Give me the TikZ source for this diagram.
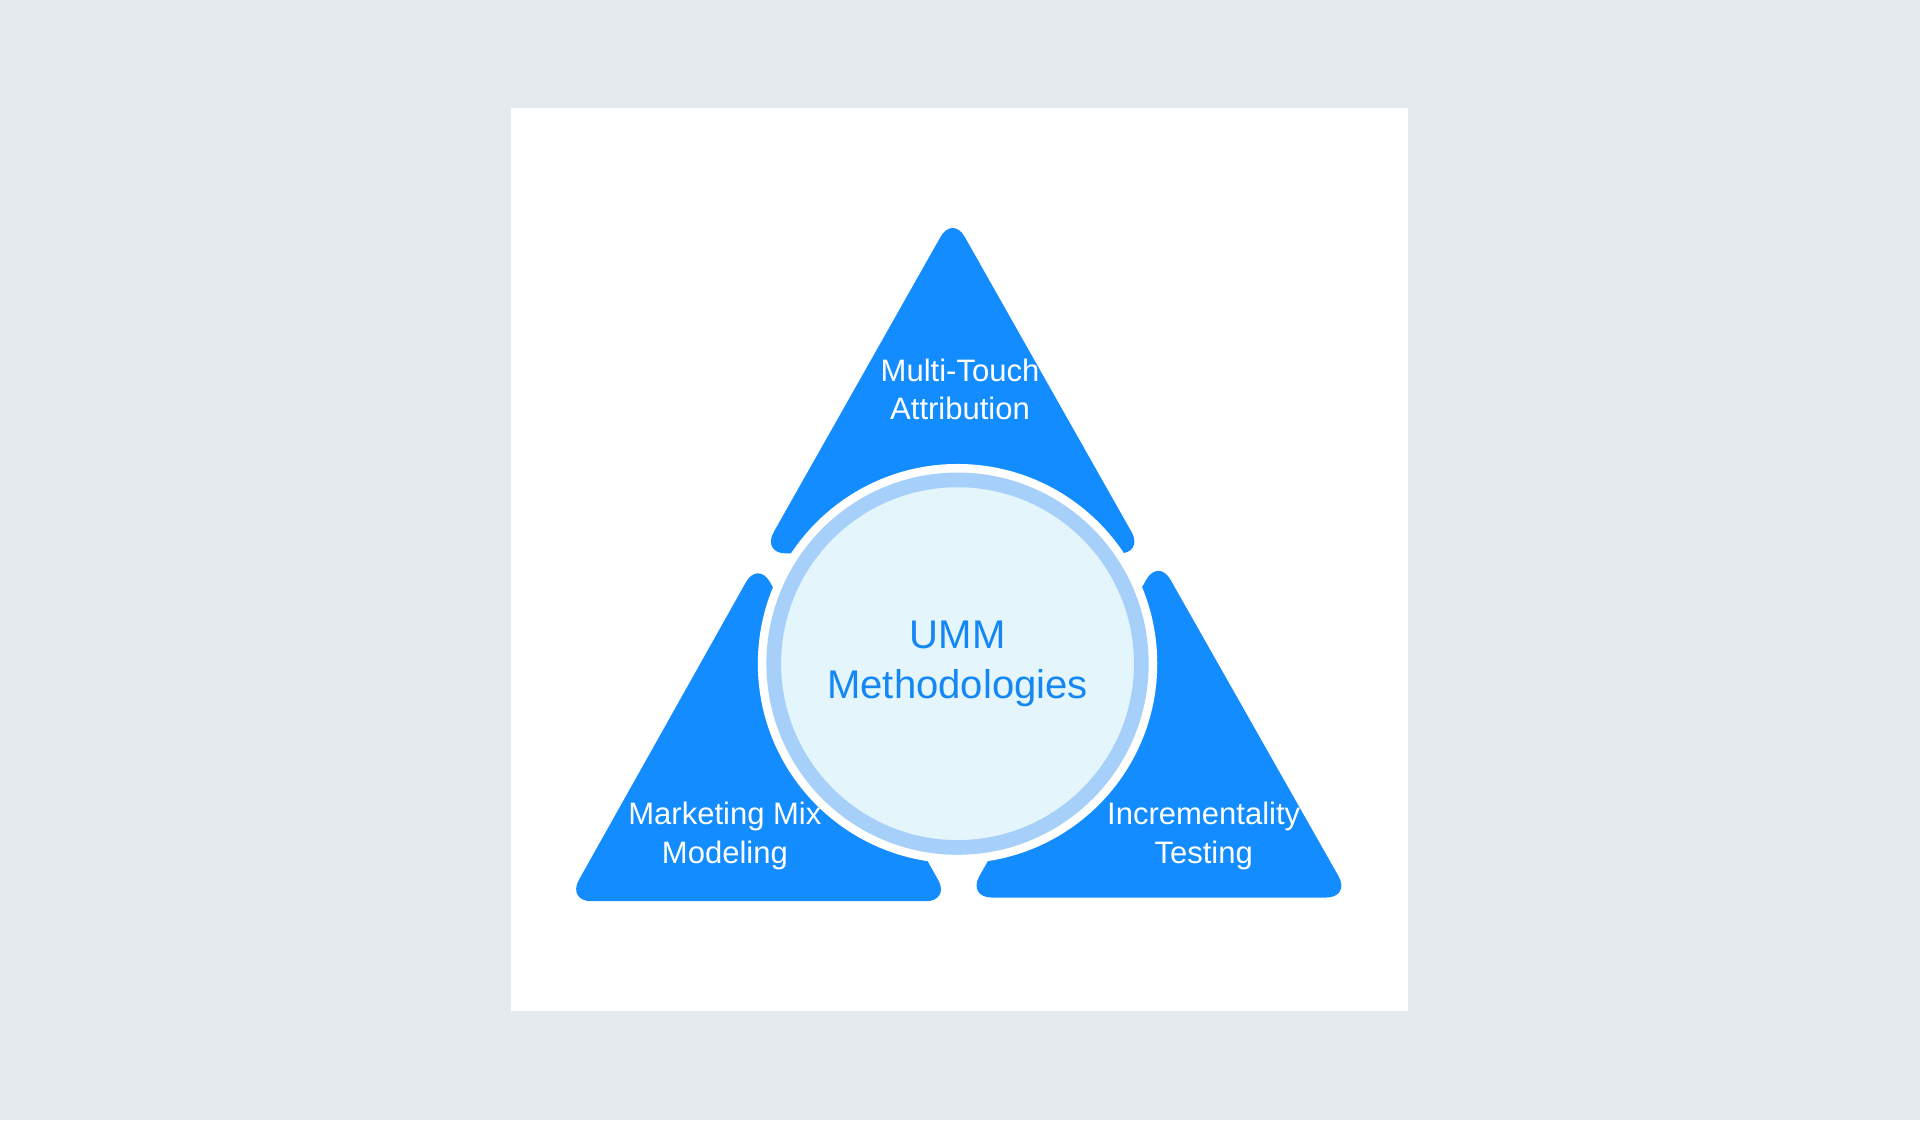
\documentclass[tikz,border=0pt]{standalone}
\usepackage{fontspec}
\setmainfont{Liberation Sans}
\usetikzlibrary{positioning}
\definecolor{pagebg}{HTML}{E4EAEE}
\definecolor{umblue}{HTML}{128CFE}
\definecolor{ringblue}{HTML}{A6D0FA}
\definecolor{corefill}{HTML}{E4F5FC}
\definecolor{coretext}{HTML}{1487F5}
\tikzset{
  petal/.style={fill=umblue, rounded corners=0.2cm},
  petallabel/.style={text=white, align=center, font=\fontsize{7.2}{9}\selectfont},
}
\begin{document}
\begin{tikzpicture}[x=0.01cm, y=-0.01cm]
  \useasboundingbox (0,0) rectangle (1568,915);
  \fill[pagebg] (0,0) rectangle (1568,915);
  \fill[white] (417,88) rectangle (1150,826);
  % three petals
  \fill[petal] (778,176) -- (934,452) -- (622,452) -- cycle;
  \fill[petal] (619,458) -- (776,736) -- (463,736) -- cycle;
  \fill[petal] (946,456) -- (1103,733) -- (790,733) -- cycle;
  % core
  \fill[white] (782,542) circle[radius=1.63cm];
  \filldraw[fill=corefill, draw=ringblue, line width=1.2mm] (782,542) circle[radius=1.5cm];
  \node[petallabel] (mta) at (784,318) {Multi-Touch\\Attribution};
  \node[petallabel] (mmm) at (592,683) {Marketing Mix\\Modeling};
  \node[petallabel] (inc) at (983,683) {Incrementality\\Testing};
  \node[text=coretext, align=center, font=\fontsize{9.3}{11.5}\selectfont] (umm) at (782,542) {UMM\\Methodologies};
\end{tikzpicture}
\end{document}
